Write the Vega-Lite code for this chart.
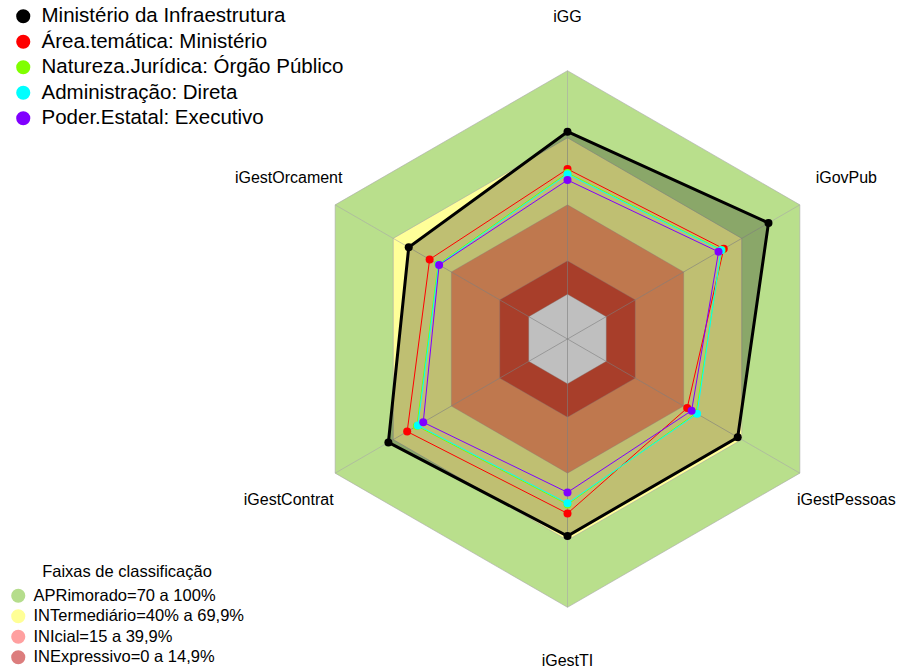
{
  "$schema": "https://vega.github.io/schema/vega-lite/v6.json",
  "width": 900,
  "height": 670,
  "autosize": "none",
  "padding": 0,
  "config": {"view": {"stroke": null}, "font": "Liberation Sans"},
  "datasets": {
    "series": [
      {"serie": "Ministério da Infraestrutura", "eixo": "iGG", "valor": 72.7},
      {"serie": "Ministério da Infraestrutura", "eixo": "iGovPub", "valor": 83.8},
      {"serie": "Ministério da Infraestrutura", "eixo": "iGestPessoas", "valor": 67.9},
      {"serie": "Ministério da Infraestrutura", "eixo": "iGestTI", "valor": 68.1},
      {"serie": "Ministério da Infraestrutura", "eixo": "iGestContrat", "valor": 72.5},
      {"serie": "Ministério da Infraestrutura", "eixo": "iGestOrcament", "valor": 62.0},
      {"serie": "Área.temática: Ministério", "eixo": "iGG", "valor": 56.0},
      {"serie": "Área.temática: Ministério", "eixo": "iGovPub", "valor": 60.7},
      {"serie": "Área.temática: Ministério", "eixo": "iGestPessoas", "valor": 41.8},
      {"serie": "Área.temática: Ministério", "eixo": "iGestTI", "valor": 58.0},
      {"serie": "Área.temática: Ministério", "eixo": "iGestContrat", "valor": 62.8},
      {"serie": "Área.temática: Ministério", "eixo": "iGestOrcament", "valor": 51.2},
      {"serie": "Natureza.Jurídica: Órgão Público", "eixo": "iGG", "valor": 54.3},
      {"serie": "Natureza.Jurídica: Órgão Público", "eixo": "iGovPub", "valor": 59.6},
      {"serie": "Natureza.Jurídica: Órgão Público", "eixo": "iGestPessoas", "valor": 46.4},
      {"serie": "Natureza.Jurídica: Órgão Público", "eixo": "iGestTI", "valor": 54.0},
      {"serie": "Natureza.Jurídica: Órgão Público", "eixo": "iGestContrat", "valor": 57.8},
      {"serie": "Natureza.Jurídica: Órgão Público", "eixo": "iGestOrcament", "valor": 46.8},
      {"serie": "Administração: Direta", "eixo": "iGG", "valor": 53.7},
      {"serie": "Administração: Direta", "eixo": "iGovPub", "valor": 59.3},
      {"serie": "Administração: Direta", "eixo": "iGestPessoas", "valor": 46.9},
      {"serie": "Administração: Direta", "eixo": "iGestTI", "valor": 53.5},
      {"serie": "Administração: Direta", "eixo": "iGestContrat", "valor": 57.3},
      {"serie": "Administração: Direta", "eixo": "iGestOrcament", "valor": 46.5},
      {"serie": "Poder.Estatal: Executivo", "eixo": "iGG", "valor": 51.1},
      {"serie": "Poder.Estatal: Executivo", "eixo": "iGovPub", "valor": 58.0},
      {"serie": "Poder.Estatal: Executivo", "eixo": "iGestPessoas", "valor": 44.1},
      {"serie": "Poder.Estatal: Executivo", "eixo": "iGestTI", "valor": 48.6},
      {"serie": "Poder.Estatal: Executivo", "eixo": "iGestContrat", "valor": 54.5},
      {"serie": "Poder.Estatal: Executivo", "eixo": "iGestOrcament", "valor": 46.3}
    ],
    "faixas": [
      {"faixa": "APRimorado=70 a 100%", "eixo": "iGG", "valor": 100},
      {"faixa": "APRimorado=70 a 100%", "eixo": "iGovPub", "valor": 100},
      {"faixa": "APRimorado=70 a 100%", "eixo": "iGestPessoas", "valor": 100},
      {"faixa": "APRimorado=70 a 100%", "eixo": "iGestTI", "valor": 100},
      {"faixa": "APRimorado=70 a 100%", "eixo": "iGestContrat", "valor": 100},
      {"faixa": "APRimorado=70 a 100%", "eixo": "iGestOrcament", "valor": 100},
      {"faixa": "INTermediário=40% a 69,9%", "eixo": "iGG", "valor": 70},
      {"faixa": "INTermediário=40% a 69,9%", "eixo": "iGovPub", "valor": 70},
      {"faixa": "INTermediário=40% a 69,9%", "eixo": "iGestPessoas", "valor": 70},
      {"faixa": "INTermediário=40% a 69,9%", "eixo": "iGestTI", "valor": 70},
      {"faixa": "INTermediário=40% a 69,9%", "eixo": "iGestContrat", "valor": 70},
      {"faixa": "INTermediário=40% a 69,9%", "eixo": "iGestOrcament", "valor": 70},
      {"faixa": "INIcial=15 a 39,9%", "eixo": "iGG", "valor": 40},
      {"faixa": "INIcial=15 a 39,9%", "eixo": "iGovPub", "valor": 40},
      {"faixa": "INIcial=15 a 39,9%", "eixo": "iGestPessoas", "valor": 40},
      {"faixa": "INIcial=15 a 39,9%", "eixo": "iGestTI", "valor": 40},
      {"faixa": "INIcial=15 a 39,9%", "eixo": "iGestContrat", "valor": 40},
      {"faixa": "INIcial=15 a 39,9%", "eixo": "iGestOrcament", "valor": 40},
      {"faixa": "INExpressivo=0 a 14,9%", "eixo": "iGG", "valor": 15},
      {"faixa": "INExpressivo=0 a 14,9%", "eixo": "iGovPub", "valor": 15},
      {"faixa": "INExpressivo=0 a 14,9%", "eixo": "iGestPessoas", "valor": 15},
      {"faixa": "INExpressivo=0 a 14,9%", "eixo": "iGestTI", "valor": 15},
      {"faixa": "INExpressivo=0 a 14,9%", "eixo": "iGestContrat", "valor": 15},
      {"faixa": "INExpressivo=0 a 14,9%", "eixo": "iGestOrcament", "valor": 15},
      {"faixa": "Centro", "eixo": "iGG", "valor": 0},
      {"faixa": "Centro", "eixo": "iGovPub", "valor": 0},
      {"faixa": "Centro", "eixo": "iGestPessoas", "valor": 0},
      {"faixa": "Centro", "eixo": "iGestTI", "valor": 0},
      {"faixa": "Centro", "eixo": "iGestContrat", "valor": 0},
      {"faixa": "Centro", "eixo": "iGestOrcament", "valor": 0}
    ],
    "legenda": [
      {"faixa": "APRimorado=70 a 100%"},
      {"faixa": "INTermediário=40% a 69,9%"},
      {"faixa": "INIcial=15 a 39,9%"},
      {"faixa": "INExpressivo=0 a 14,9%"}
    ],
    "eixos": [
      {"eixo": "iGG", "valor": 100},
      {"eixo": "iGovPub", "valor": 100},
      {"eixo": "iGestPessoas", "valor": 100},
      {"eixo": "iGestTI", "valor": 100},
      {"eixo": "iGestContrat", "valor": 100},
      {"eixo": "iGestOrcament", "valor": 100}
    ]
  },
  "encoding": {
    "x": {"field": "px", "type": "quantitative", "scale": {"domain": [-2.11517, 1.23928], "nice": false, "zero": false}, "axis": null},
    "y": {"field": "py", "type": "quantitative", "scale": {"domain": [-1.23369, 1.26351], "nice": false, "zero": false}, "axis": null}
  },
  "layer": [
    {
      "data": {"name": "legenda"},
      "mark": {"type": "point", "filled": true, "shape": "circle", "size": 10, "opacity": 1},
      "encoding": {
        "x": {"datum": 0, "type": "quantitative"},
        "y": {"datum": 0, "type": "quantitative"},
        "fill": {
          "field": "faixa", "type": "nominal",
          "scale": {"domain": ["APRimorado=70 a 100%", "INTermediário=40% a 69,9%", "INIcial=15 a 39,9%", "INExpressivo=0 a 14,9%"], "range": ["#B5DD8C", "#FFFF96", "#FFA0A0", "#DC7D7D"]},
          "legend": {
            "orient": "none", "legendX": 10, "legendY": 564, "padding": 0,
            "title": "Faixas de classificação", "titleFontSize": 16.5, "titleFontWeight": "normal", "titleFont": "Liberation Sans", "titleColor": "#000000", "titleAnchor": "middle", "titlePadding": 7,
            "labelFontSize": 16.5, "labelFont": "Liberation Sans", "labelColor": "#000000", "labelOffset": 7, "labelLimit": 400,
            "symbolType": "circle", "symbolSize": 200, "symbolStrokeWidth": 0, "symbolOpacity": 1, "rowPadding": 3.5
          }
        }
      }
    },
    {
      "data": {"name": "faixas"},
      "transform": [
        {"filter": "datum.faixa === 'APRimorado=70 a 100%'"},
        {"calculate": "indexof(['iGG','iGovPub','iGestPessoas','iGestTI','iGestContrat','iGestOrcament'], datum.eixo)", "as": "k"},
        {"calculate": "(datum.valor + 20) / 120", "as": "r"},
        {"calculate": "datum.r * sin(datum.k * PI / 3)", "as": "px"},
        {"calculate": "datum.r * cos(datum.k * PI / 3)", "as": "py"}
      ],
      "mark": {"type": "line", "interpolate": "linear-closed", "fill": "#B9DF8C", "stroke": "#A8A8A8", "strokeWidth": 1, "strokeOpacity": 0.6},
      "encoding": {"order": {"field": "k", "type": "quantitative"}}
    },
    {
      "data": {"name": "faixas"},
      "transform": [
        {"filter": "datum.faixa === 'INTermediário=40% a 69,9%'"},
        {"calculate": "indexof(['iGG','iGovPub','iGestPessoas','iGestTI','iGestContrat','iGestOrcament'], datum.eixo)", "as": "k"},
        {"calculate": "(datum.valor + 20) / 120", "as": "r"},
        {"calculate": "datum.r * sin(datum.k * PI / 3)", "as": "px"},
        {"calculate": "datum.r * cos(datum.k * PI / 3)", "as": "py"}
      ],
      "mark": {"type": "line", "interpolate": "linear-closed", "fill": "#FFFF99", "stroke": "#A8A8A8", "strokeWidth": 1, "strokeOpacity": 0.6},
      "encoding": {"order": {"field": "k", "type": "quantitative"}}
    },
    {
      "data": {"name": "faixas"},
      "transform": [
        {"filter": "datum.faixa === 'INIcial=15 a 39,9%'"},
        {"calculate": "indexof(['iGG','iGovPub','iGestPessoas','iGestTI','iGestContrat','iGestOrcament'], datum.eixo)", "as": "k"},
        {"calculate": "(datum.valor + 20) / 120", "as": "r"},
        {"calculate": "datum.r * sin(datum.k * PI / 3)", "as": "px"},
        {"calculate": "datum.r * cos(datum.k * PI / 3)", "as": "py"}
      ],
      "mark": {"type": "line", "interpolate": "linear-closed", "fill": "#FFA068", "stroke": "#A8A8A8", "strokeWidth": 1, "strokeOpacity": 0.35},
      "encoding": {"order": {"field": "k", "type": "quantitative"}}
    },
    {
      "data": {"name": "faixas"},
      "transform": [
        {"filter": "datum.faixa === 'INExpressivo=0 a 14,9%'"},
        {"calculate": "indexof(['iGG','iGovPub','iGestPessoas','iGestTI','iGestContrat','iGestOrcament'], datum.eixo)", "as": "k"},
        {"calculate": "(datum.valor + 20) / 120", "as": "r"},
        {"calculate": "datum.r * sin(datum.k * PI / 3)", "as": "px"},
        {"calculate": "datum.r * cos(datum.k * PI / 3)", "as": "py"}
      ],
      "mark": {"type": "line", "interpolate": "linear-closed", "fill": "#E05338", "stroke": "#A8A8A8", "strokeWidth": 1, "strokeOpacity": 0.35},
      "encoding": {"order": {"field": "k", "type": "quantitative"}}
    },
    {
      "data": {"name": "faixas"},
      "transform": [
        {"filter": "datum.faixa === 'Centro'"},
        {"calculate": "indexof(['iGG','iGovPub','iGestPessoas','iGestTI','iGestContrat','iGestOrcament'], datum.eixo)", "as": "k"},
        {"calculate": "(datum.valor + 20) / 120", "as": "r"},
        {"calculate": "datum.r * sin(datum.k * PI / 3)", "as": "px"},
        {"calculate": "datum.r * cos(datum.k * PI / 3)", "as": "py"}
      ],
      "mark": {"type": "line", "interpolate": "linear-closed", "fill": "#FFFFFF", "stroke": "#A8A8A8", "strokeWidth": 1, "strokeOpacity": 0.35},
      "encoding": {"order": {"field": "k", "type": "quantitative"}}
    },
    {
      "data": {"name": "eixos"},
      "transform": [
        {"calculate": "indexof(['iGG','iGovPub','iGestPessoas','iGestTI','iGestContrat','iGestOrcament'], datum.eixo)", "as": "k"},
        {"calculate": "(datum.valor + 20) / 120", "as": "r"},
        {"calculate": "datum.r * sin(datum.k * PI / 3)", "as": "px"},
        {"calculate": "datum.r * cos(datum.k * PI / 3)", "as": "py"}
      ],
      "mark": {"type": "rule", "color": "#A8A8A8", "strokeWidth": 1, "opacity": 0.6},
      "encoding": {
        "x2": {"datum": 0},
        "y2": {"datum": 0}
      }
    },
    {
      "data": {"name": "series"},
      "transform": [
        {"filter": "datum.serie === 'Ministério da Infraestrutura'"},
        {"calculate": "indexof(['iGG','iGovPub','iGestPessoas','iGestTI','iGestContrat','iGestOrcament'], datum.eixo)", "as": "k"},
        {"calculate": "(datum.valor + 20) / 120", "as": "r"},
        {"calculate": "datum.r * sin(datum.k * PI / 3)", "as": "px"},
        {"calculate": "datum.r * cos(datum.k * PI / 3)", "as": "py"}
      ],
      "mark": {"type": "line", "interpolate": "linear-closed", "fill": "#000000", "fillOpacity": 0.25, "strokeOpacity": 0},
      "encoding": {"order": {"field": "k", "type": "quantitative"}}
    },
    {
      "data": {"name": "series"},
      "transform": [
        {"calculate": "indexof(['iGG','iGovPub','iGestPessoas','iGestTI','iGestContrat','iGestOrcament'], datum.eixo)", "as": "k"},
        {"calculate": "(datum.valor + 20) / 120", "as": "r"},
        {"calculate": "datum.r * sin(datum.k * PI / 3)", "as": "px"},
        {"calculate": "datum.r * cos(datum.k * PI / 3)", "as": "py"}
      ],
      "mark": {"type": "line", "interpolate": "linear-closed"},
      "encoding": {
        "order": {"field": "k", "type": "quantitative"},
        "detail": {"field": "serie", "type": "nominal"},
        "stroke": {
          "field": "serie", "type": "nominal",
          "scale": {"domain": ["Poder.Estatal: Executivo", "Administração: Direta", "Natureza.Jurídica: Órgão Público", "Área.temática: Ministério", "Ministério da Infraestrutura"], "range": ["#8000FF", "#00FFFF", "#80FF00", "#FF0000", "#000000"]},
          "legend": null
        },
        "strokeWidth": {"condition": {"test": "datum.serie === 'Ministério da Infraestrutura'", "value": 3}, "value": 1}
      }
    },
    {
      "data": {"name": "series"},
      "transform": [
        {"calculate": "indexof(['iGG','iGovPub','iGestPessoas','iGestTI','iGestContrat','iGestOrcament'], datum.eixo)", "as": "k"},
        {"calculate": "(datum.valor + 20) / 120", "as": "r"},
        {"calculate": "datum.r * sin(datum.k * PI / 3)", "as": "px"},
        {"calculate": "datum.r * cos(datum.k * PI / 3)", "as": "py"}
      ],
      "mark": {"type": "point", "filled": true, "shape": "circle", "size": 64, "opacity": 1},
      "encoding": {
        "color": {
          "field": "serie", "type": "nominal",
          "scale": {"domain": ["Ministério da Infraestrutura", "Área.temática: Ministério", "Natureza.Jurídica: Órgão Público", "Administração: Direta", "Poder.Estatal: Executivo"], "range": ["#000000", "#FF0000", "#80FF00", "#00FFFF", "#8000FF"]},
          "legend": {
            "orient": "none", "legendX": 13, "legendY": 6, "padding": 0, "title": null,
            "labelFontSize": 20.5, "labelFont": "Liberation Sans", "labelColor": "#000000", "labelOffset": 8, "labelLimit": 500,
            "symbolType": "circle", "symbolSize": 200, "symbolStrokeWidth": 0, "symbolOpacity": 1, "rowPadding": 4.5
          }
        }
      }
    },
    {
      "data": {"name": "eixos"},
      "transform": [
        {"calculate": "indexof(['iGG','iGovPub','iGestPessoas','iGestTI','iGestContrat','iGestOrcament'], datum.eixo)", "as": "k"},
        {"calculate": "1.2 * sin(datum.k * PI / 3)", "as": "px"},
        {"calculate": "1.2 * cos(datum.k * PI / 3)", "as": "py"}
      ],
      "mark": {"type": "text", "font": "Liberation Sans", "fontSize": 16, "color": "#000000", "align": "center", "baseline": "middle"},
      "encoding": {"text": {"field": "eixo", "type": "nominal"}}
    }
  ]
}
